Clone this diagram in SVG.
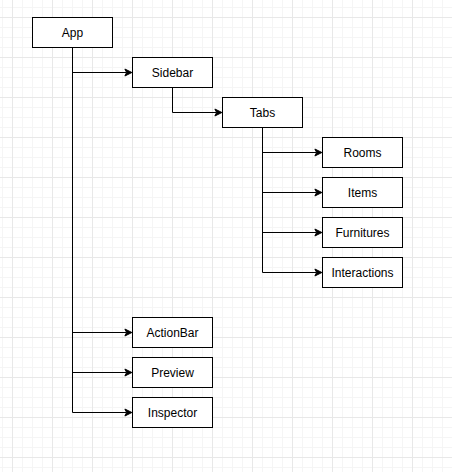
<svg xmlns="http://www.w3.org/2000/svg" width="452" height="472" viewBox="0 0 452 472">
  <defs>
    <pattern id="minor" x="2" y="7" width="10" height="10" patternUnits="userSpaceOnUse">
      <path d="M0,0.5 H10 M0.5,0 V10" fill="none" stroke="#f5f5f5" stroke-width="1"/>
    </pattern>
    <pattern id="major" x="12" y="17" width="40" height="40" patternUnits="userSpaceOnUse">
      <path d="M0,0.5 H40 M0.5,0 V40" fill="none" stroke="#e8e8e8" stroke-width="1"/>
    </pattern>
  </defs>
  <style>
    .node rect { fill: #ffffff; stroke: #000000; stroke-width: 1; }
    .node text { font-family: "Liberation Sans", Arial, Helvetica, sans-serif; font-size: 12px; fill: #000000; text-anchor: middle; }
    .edge { fill: none; stroke: #000000; stroke-width: 1; }
    .head { fill: #000000; stroke: #000000; stroke-width: 1; }
  </style>
  <rect x="0" y="0" width="452" height="472" fill="#ffffff"/>
  <rect x="0" y="0" width="452" height="472" fill="url(#minor)"/>
  <rect x="0" y="0" width="452" height="472" fill="url(#major)"/>

  <g id="connectors">
    <!-- App -> Sidebar -->
    <path class="edge" d="M72.5,47.5 V72.5 H126.63"/>
    <path class="head" d="M131.88,72.5 L124.88,76 L126.63,72.5 L124.88,69 Z"/>
    <!-- App -> ActionBar -->
    <path class="edge" d="M72.5,47.5 V332.5 H126.63"/>
    <path class="head" d="M131.88,332.5 L124.88,336 L126.63,332.5 L124.88,329 Z"/>
    <!-- App -> Preview -->
    <path class="edge" d="M72.5,47.5 V372.5 H126.63"/>
    <path class="head" d="M131.88,372.5 L124.88,376 L126.63,372.5 L124.88,369 Z"/>
    <!-- App -> Inspector -->
    <path class="edge" d="M72.5,47.5 V412.5 H126.63"/>
    <path class="head" d="M131.88,412.5 L124.88,416 L126.63,412.5 L124.88,409 Z"/>
    <!-- Sidebar -> Tabs -->
    <path class="edge" d="M172.5,87.5 V112.5 H216.63"/>
    <path class="head" d="M221.88,112.5 L214.88,116 L216.63,112.5 L214.88,109 Z"/>
    <!-- Tabs -> Rooms -->
    <path class="edge" d="M262.5,127.5 V152.5 H316.63"/>
    <path class="head" d="M321.88,152.5 L314.88,156 L316.63,152.5 L314.88,149 Z"/>
    <!-- Tabs -> Items -->
    <path class="edge" d="M262.5,127.5 V192.5 H316.63"/>
    <path class="head" d="M321.88,192.5 L314.88,196 L316.63,192.5 L314.88,189 Z"/>
    <!-- Tabs -> Furnitures -->
    <path class="edge" d="M262.5,127.5 V232.5 H316.63"/>
    <path class="head" d="M321.88,232.5 L314.88,236 L316.63,232.5 L314.88,229 Z"/>
    <!-- Tabs -> Interactions -->
    <path class="edge" d="M262.5,127.5 V272.5 H316.63"/>
    <path class="head" d="M321.88,272.5 L314.88,276 L316.63,272.5 L314.88,269 Z"/>
  </g>

  <g id="app" class="node"><rect x="32.5" y="17.5" width="80" height="30"/><text x="72.5" y="36.5">App</text></g>
  <g id="sidebar" class="node"><rect x="132.5" y="57.5" width="80" height="30"/><text x="172.5" y="76.5">Sidebar</text></g>
  <g id="tabs" class="node"><rect x="222.5" y="97.5" width="80" height="30"/><text x="262.5" y="116.5">Tabs</text></g>
  <g id="rooms" class="node"><rect x="322.5" y="137.5" width="80" height="30"/><text x="362.5" y="156.5">Rooms</text></g>
  <g id="items" class="node"><rect x="322.5" y="177.5" width="80" height="30"/><text x="362.5" y="196.5">Items</text></g>
  <g id="furnitures" class="node"><rect x="322.5" y="217.5" width="80" height="30"/><text x="362.5" y="236.5">Furnitures</text></g>
  <g id="interactions" class="node"><rect x="322.5" y="257.5" width="80" height="30"/><text x="362.5" y="276.5">Interactions</text></g>
  <g id="actionbar" class="node"><rect x="132.5" y="317.5" width="80" height="30"/><text x="172.5" y="336.5">ActionBar</text></g>
  <g id="preview" class="node"><rect x="132.5" y="357.5" width="80" height="30"/><text x="172.5" y="376.5">Preview</text></g>
  <g id="inspector" class="node"><rect x="132.5" y="397.5" width="80" height="30"/><text x="172.5" y="416.5">Inspector</text></g>
</svg>
